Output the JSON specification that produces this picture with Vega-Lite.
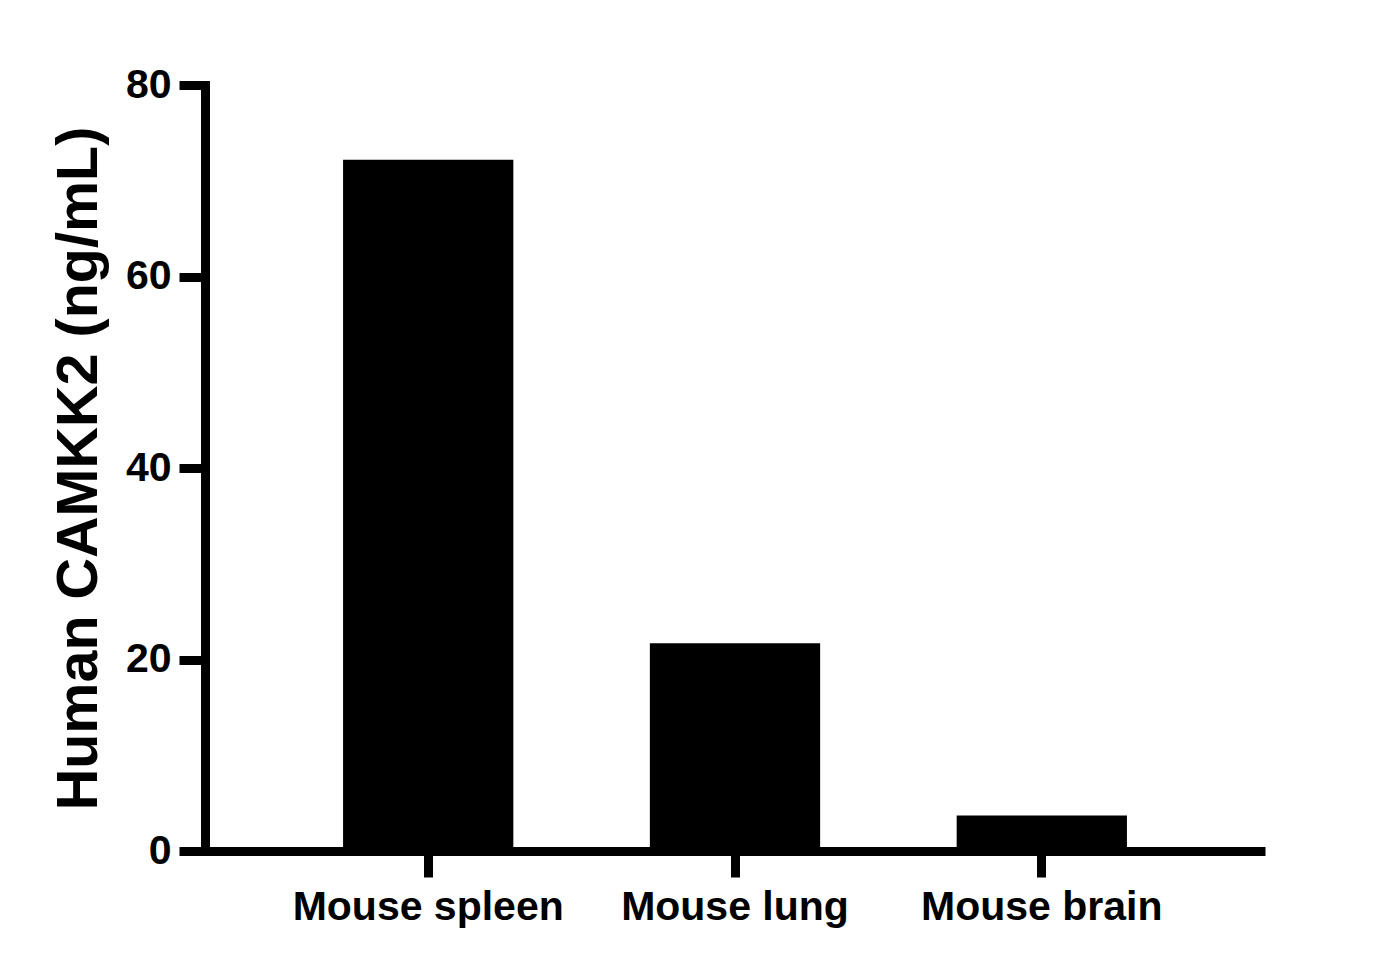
{
  "$schema": "https://vega.github.io/schema/vega-lite/v6.json",
  "autosize": "none",
  "width": 1060,
  "height": 766,
  "padding": {"left": 205, "top": 85, "right": 135, "bottom": 121},
  "background": "white",
  "data": {
    "values": [
      {"tissue": "Mouse spleen", "value": 72.2},
      {"tissue": "Mouse lung", "value": 21.7},
      {"tissue": "Mouse brain", "value": 3.7}
    ]
  },
  "config": {
    "view": {"stroke": null},
    "font": "Liberation Sans",
    "axis": {
      "domainColor": "black",
      "domainWidth": 9,
      "tickColor": "black",
      "tickWidth": 9,
      "tickSize": 26,
      "grid": false,
      "labelFont": "Liberation Sans",
      "labelFontWeight": "bold",
      "labelFontSize": 41,
      "labelColor": "black",
      "labelLimit": 0,
      "titleFont": "Liberation Sans",
      "titleFontWeight": "bold",
      "titleColor": "black"
    }
  },
  "mark": {"type": "bar", "color": "black"},
  "encoding": {
    "x": {
      "field": "tissue",
      "type": "nominal",
      "sort": null,
      "title": null,
      "scale": {"paddingInner": 0.445, "paddingOuter": 0.45},
      "axis": {"labelAngle": 0, "labelPadding": 10, "domainCap": "butt"}
    },
    "y": {
      "field": "value",
      "type": "quantitative",
      "title": "Human CAMKK2 (ng/mL)",
      "scale": {"domain": [0, 80], "nice": false},
      "axis": {
        "values": [0, 20, 40, 60, 80],
        "labelPadding": 8,
        "titleFontSize": 57.5,
        "titlePadding": 17,
        "domainCap": "square"
      }
    }
  }
}
